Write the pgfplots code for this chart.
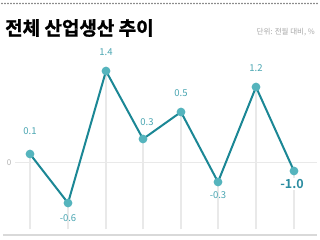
\documentclass[border=0pt]{standalone}
\usepackage{pgfplots}
\pgfplotsset{compat=1.18}
\usepackage{pgfplotstable}
\usepackage{fontspec}
\setmainfont{Noto Sans CJK KR}
\newfontfamily\krbold{Noto Sans CJK KR Bold}
\newfontfamily\krtitle{Noto Sans CJK KR Bold}[FakeBold=1.2]
\definecolor{linecol}{HTML}{1B8795}
\definecolor{markcol}{HTML}{55B4BD}
\definecolor{labcol}{HTML}{4AA6B2}
\definecolor{labdark}{HTML}{2A8CA0}
\definecolor{gridcol}{HTML}{E9E9E9}

% x: horizontal position, y: plotted height, dx/dy: label offset, lab: value
\pgfplotstableread{
x   y    dx  dy   lab
30  75   0   23   0.1
68  26   0  -15   -0.6
106 158  0   19   1.4
143 90   4   17   0.3
181 117  0   19   0.5
218 47   0  -13   -0.3
256 142  0   19   1.2
}\labtab
\pgfplotstableread{
x   y
30  75
68  26
106 158
143 90
181 117
218 47
256 142
294 58
}\datatab

\begin{document}
\begin{tikzpicture}
\begin{axis}[
  at={(0,0)}, anchor=south west,
  scale only axis, width=320bp, height=240bp,
  xmin=0, xmax=320, ymin=-11, ymax=229,
  hide axis, clip=false,
]
\fill[white] (rel axis cs:0,0) rectangle (rel axis cs:1,1);
% title and unit
\node[anchor=west, inner sep=0pt, font=\krtitle\fontsize{19bp}{21bp}\selectfont] at (axis cs:5,201) {전체 산업생산 추이};
\node[anchor=east, inner sep=0pt, text=black!35, font=\fontsize{7.5bp}{9bp}\selectfont] at (axis cs:315,197) {단위: 전월 대비, \%};
% zero line and label
\draw[gridcol, line width=1bp] (axis cs:15,66) -- (axis cs:317,66);
\node[text=black!30, font=\fontsize{8bp}{9bp}\selectfont] at (axis cs:9,66) {0};
% bottom rule
\draw[black!15, line width=1.5bp] (axis cs:3,-6) -- (axis cs:317,-6);
% drop lines
\addplot[ycomb, gridcol, line width=1.2bp, mark=none] table[x=x, y=y] {\datatab};
% main line
\addplot[linecol, line width=2bp, mark=*, mark size=3.3bp,
  mark options={fill=markcol, draw=markcol}] table[x=x, y=y] {\datatab};
% labels
\addplot[only marks, mark=none,
  visualization depends on={\thisrow{dy} \as \dy},
  visualization depends on={\thisrow{dx} \as \dx},
  point meta=explicit symbolic,
  nodes near coords,
  every node near coord/.append style={anchor=center, xshift=\dx bp, yshift=\dy bp, inner sep=1bp,
    text=labcol, font=\fontsize{9.5bp}{10bp}\selectfont}]
  table[x=x, y=y, meta=lab] {\labtab};
\addplot[only marks, mark=none, point meta=explicit symbolic, nodes near coords,
  every node near coord/.append style={anchor=center, xshift=-2bp, yshift=-13bp, fill=white, inner sep=1bp,
    text=labdark, font=\krbold\fontsize{12.5bp}{13bp}\selectfont}]
  coordinates {(294,58) [-1.0]};
\end{axis}
% top dotted rule (decoration)
\foreach \i in {0,...,105} {
  \fill[black!55] ({(2+3*\i)*1bp},236.5bp) circle[radius=0.9bp];
}
\end{tikzpicture}
\end{document}
